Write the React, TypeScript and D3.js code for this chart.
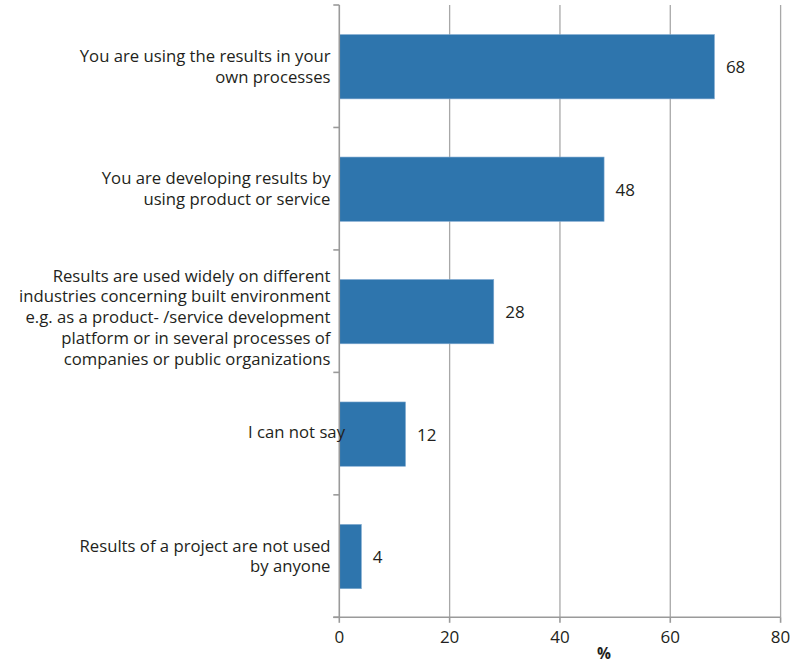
import React from "react";
import * as d3 from "d3";

const categories: string[] = [
  "You are using the results in your\nown processes",
  "You are developing results by\nusing product or service",
  "Results are used widely on different\nindustries concerning built environment\ne.g. as a product- /service development\nplatform or in several processes of\ncompanies or public organizations",
  "I can not say",
  "Results of a project are not used\nby anyone",
];
const values: number[] = [68, 48, 28, 12, 4];
const xTicks: number[] = [0, 20, 40, 60, 80];
const xAxisTitle = "%";

const W = 795;
const H = 664;
const FONT = "'Open Sans', 'Noto Sans', sans-serif";
const TEXT = "#231f20";
const BAR = "#2e75ad";
const GRID = "#a8a8a8";
const AXIS = "#9a9a9a";

export default function App() {
  const top = 5;
  const bottom = 617.3;
  const left = 339.3;
  const right = 780.6;
  const x = d3.scaleLinear().domain([0, 80]).range([left, right]);
  const y = d3.scaleBand<number>().domain(d3.range(categories.length)).range([top, bottom]).padding(0);
  const bh = y.bandwidth() * 0.525;
  const lh = 20.8;
  const fs = 16.7;

  return (
    <svg width={W} height={H} style={{ position: "absolute", left: 0, top: 0, background: "#fff" }}>
      {/* gridlines */}
      {xTicks.slice(1).map((t) => (
        <line key={"g" + t} x1={x(t)} x2={x(t)} y1={top} y2={bottom} stroke={GRID} strokeWidth={1.3} />
      ))}
      {/* bars */}
      {values.map((v, i) => {
        const cy = (y(i) as number) + y.bandwidth() / 2;
        return (
          <g key={"b" + i}>
            <rect x={x(0)} y={cy - bh / 2 + 0.5} width={x(v) - x(0)} height={bh} fill={BAR} stroke="#7fa9d0" strokeWidth={0.6} />
            <text x={x(v) + 11.5} y={cy + 7} fontFamily={FONT} fontSize={17} fill={TEXT}>
              {v}
            </text>
          </g>
        );
      })}
      {/* left axis */}
      <line x1={left} x2={left} y1={top} y2={bottom} stroke={AXIS} strokeWidth={1.6} />
      {d3.range(categories.length + 1).map((i) => {
        const yy = top + i * y.step();
        return <line key={"lt" + i} x1={left - 6} x2={left} y1={yy} y2={yy} stroke={AXIS} strokeWidth={1.6} />;
      })}
      {/* bottom axis */}
      <line x1={left - 6} x2={right} y1={bottom} y2={bottom} stroke={AXIS} strokeWidth={1.6} />
      {xTicks.map((t) => (
        <g key={"xt" + t}>
          <line x1={x(t)} x2={x(t)} y1={bottom} y2={bottom + 5.5} stroke={AXIS} strokeWidth={1.6} />
          <text x={x(t)} y={643} textAnchor="middle" fontFamily={FONT} fontSize={17} fill={TEXT}>
            {t}
          </text>
        </g>
      ))}
      <text x={604} y={659} textAnchor="middle" fontFamily={FONT} fontSize={15.5} fontWeight="bold" fill={TEXT}>
        {xAxisTitle}
      </text>
      {/* category labels */}
      {categories.map((c, i) => {
        const lines = c.split("\n");
        const n = lines.length;
        const cy = (y(i) as number) + y.bandwidth() / 2;
        const off = 4 + 2 * (n - 1);
        const ax = n === 1 ? 345 : 330.5;
        return (
          <text key={"c" + i} textAnchor="end" fontFamily={FONT} fontSize={fs} fill={TEXT}>
            {lines.map((l, j) => (
              <tspan key={j} x={ax} y={cy + off + (j - (n - 1) / 2) * lh}>
                {l}
              </tspan>
            ))}
          </text>
        );
      })}
    </svg>
  );
}
